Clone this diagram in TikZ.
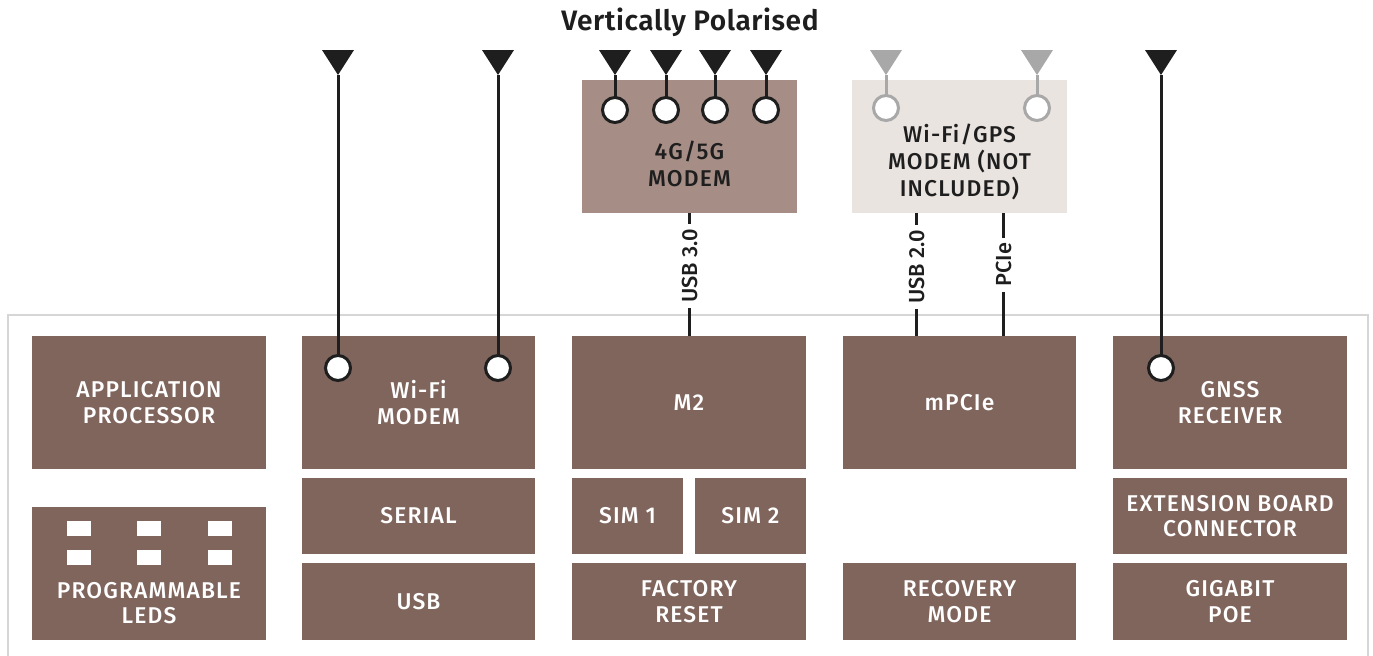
\documentclass[tikz,border=0pt]{standalone}
\usepackage{fontspec}
\setmainfont{Fira Sans}
\newfontfamily\medfont{Fira Sans Medium}[LetterSpace=5]
\newfontfamily\busfont{Fira Sans Medium}
\newfontfamily\semifont{Fira Sans SemiBold}[LetterSpace=2]
\usepackage{xcolor}
\usepackage{tikz}
\usetikzlibrary{positioning,calc}
\definecolor{boxbrown}{HTML}{80655D}
\definecolor{modembrown}{HTML}{A68E86}
\definecolor{gpsgray}{HTML}{EAE4E1}
\definecolor{antblack}{HTML}{1E1E1E}
\definecolor{antgray}{HTML}{A8A8A8}
\definecolor{framegray}{HTML}{D6D6D6}

\begin{document}
\begin{tikzpicture}[x=0.02cm,y=-0.02cm,inner sep=0pt]
    \tikzstyle{block}=[rectangle,fill=boxbrown,text=white,align=center,minimum width=4.68cm,minimum height=2.66cm,font=\medfont\fontsize{13}{14.5}\selectfont]
    \tikzstyle{small}=[minimum height=1.53cm]
    \tikzstyle{topbox}=[rectangle,minimum width=4.3cm,minimum height=2.66cm]
    \tikzstyle{toptext}=[align=center,text=antblack,font=\medfont\fontsize{13}{15.5}\selectfont]
    \tikzstyle{port}=[circle,draw=antblack,fill=white,line width=0.06cm,minimum size=0.5cm]
    \tikzstyle{wire}=[draw=antblack,line width=0.06cm]
    \tikzstyle{buslabel}=[rotate=90,fill=white,text=antblack,inner xsep=3pt,inner ysep=1pt,font=\busfont\fontsize{12.4}{14.5}\selectfont]

    \useasboundingbox (0,0) rectangle (1373,656);

    % board outline
    \draw[framegray,line width=0.04cm] (8,720) -- (8,315) -- (1368,315) -- (1368,720);

    \node[font=\semifont\fontsize{16}{18}\selectfont,text=antblack] (title) at (690,22) {Vertically Polarised};

    % modules on the board
    \node[block] (app) at (149,402.5) {APPLICATION\\PROCESSOR};
    \node[block] (leds) at (149,573.5) {};
    \foreach \x in {79,149,220} {
        \foreach \y in {528.5,557} {
            \fill[white] (\x-12,\y-7.5) rectangle (\x+12,\y+7.5);
        };
    };
    \node[align=center,text=white,font=\medfont\fontsize{13}{14.5}\selectfont] (ledtext) at (149,603) {PROGRAMMABLE\\LEDS};

    \node[block] (wifi) at (418.5,402.5) {Wi-Fi\\MODEM};
    \node[block,small] (serial) at (418.5,516) {SERIAL};
    \node[block,small] (usb) at (418.5,601.5) {USB};

    \node[block] (m2) at (689,402.5) {M2};
    \node[block,small,minimum width=2.22cm] (sim1) at (627.5,516) {SIM 1};
    \node[block,small,minimum width=2.22cm] (sim2) at (750.5,516) {SIM 2};
    \node[block,small] (reset) at (689,601.5) {FACTORY\\RESET};

    \node[block] (mpcie) at (959.5,402.5) {mPCIe};
    \node[block,small] (recovery) at (959.5,601.5) {RECOVERY\\MODE};

    \node[block] (gnss) at (1230,402.5) {GNSS\\RECEIVER};
    \node[block,small] (ext) at (1230,516) {EXTENSION BOARD\\CONNECTOR};
    \node[block,small] (poe) at (1230,601.5) {GIGABIT\\POE};

    % plug-in modems
    \node[topbox,fill=modembrown] (cell) at (689.5,146.5) {};
    \node[toptext] (celltext) at (689.5,164) {4G/5G\\MODEM};
    \node[topbox,fill=gpsgray] (gps) at (959.5,146.5) {};
    \node[toptext] (gpstext) at (959.5,162) {Wi-Fi/GPS\\MODEM (NOT\\INCLUDED)};

    % antennas
    \foreach \n/\x/\y in {1/615/110,2/666/110,3/715/110,4/766/110,5/338/368,6/498/368,7/1161/368} {
        \coordinate (a\n) at (\x,75);
        \fill[antblack] (\x-16,50) -- (\x+16,50) -- (a\n) -- cycle;
        \draw[wire] (a\n) -- (\x,\y);
        \node[port] (p\n) at (\x,\y) {};
    };
    \foreach \n/\x in {8/886,9/1037} {
        \coordinate (a\n) at (\x,75);
        \fill[antgray] (\x-16,50) -- (\x+16,50) -- (a\n) -- cycle;
        \draw[wire,draw=antgray] (a\n) -- (\x,108);
        \node[port,draw=antgray] (p\n) at (\x,108) {};
    };

    % buses
    \draw[wire] (cell.south) -- node[buslabel,pos=0.43] {USB 3.0} (cell.south |- m2.north);
    \draw[wire] ([xshift=1.3cm]gps.south west) -- node[buslabel,pos=0.44] {USB 2.0} ([xshift=1.3cm]gps.south west |- mpcie.north);
    \draw[wire] ([xshift=3.04cm]gps.south west) -- node[buslabel,pos=0.42] {PCIe} ([xshift=3.04cm]gps.south west |- mpcie.north);
\end{tikzpicture}
\end{document}
